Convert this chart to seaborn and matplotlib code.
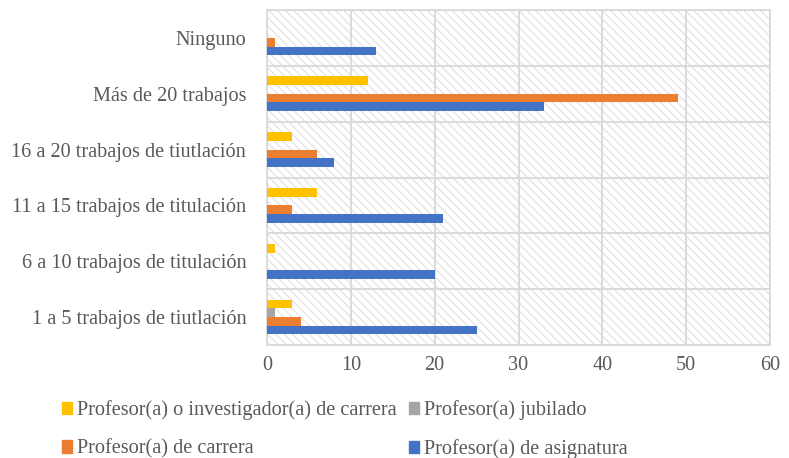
import numpy as np
import pandas as pd
import seaborn as sns
import matplotlib.pyplot as plt
from matplotlib.patches import Rectangle

# categories, top to bottom as drawn
categorias = ['Ninguno', 'Más de 20 trabajos', '16 a 20 trabajos de tiutlación',
              '11 a 15 trabajos de titulación', '6 a 10 trabajos de titulación',
              '1 a 5 trabajos de tiutlación']

series = ['Profesor(a) o investigador(a) de carrera', 'Profesor(a) jubilado',
          'Profesor(a) de carrera', 'Profesor(a) de asignatura']

investigador = [0, 12, 3, 6, 1, 3]
jubilado = [0, 0, 0, 0, 0, 1]
carrera = [1, 49, 6, 3, 0, 4]
asignatura = [13, 33, 8, 21, 20, 25]

colores = ['#FFC000', '#A5A5A5', '#ED7D31', '#4472C4']
texto = '#595959'
rejilla = '#d9d9d9'

rows = []
for s, vals in zip(series, [investigador, jubilado, carrera, asignatura]):
    for c, v in zip(categorias, vals):
        rows.append({'cat': c, 'serie': s, 'valor': v})
df = pd.DataFrame(rows)

sns.set_style('white')
plt.rcParams['font.family'] = ['Liberation Serif', 'DejaVu Serif']
plt.rcParams['hatch.linewidth'] = 0.7

fig = plt.figure(figsize=(7.89, 4.58), dpi=100)
ax = fig.add_axes([267 / 789, 1 - 345 / 458, (770 - 267) / 789, (345 - 10) / 458])

# hatched plot background
ax.add_patch(Rectangle((0, 0), 1, 1, transform=ax.transAxes, facecolor='white',
                       edgecolor='#dcdcdc', hatch='\\\\\\\\', linewidth=0, zorder=0))

sns.barplot(data=df, y='cat', x='valor', hue='serie', order=categorias,
            hue_order=series, palette=colores, saturation=1, orient='h',
            width=0.62, linewidth=0, ax=ax, legend=False, zorder=3)

ax.set_xlim(0, 60)
ax.set_xticks(np.arange(0, 61, 10))
ax.set_ylim(5.5, -0.5)
ax.set_yticks(np.arange(-0.5, 6, 1), minor=True)
ax.grid(axis='x', which='major', color=rejilla, linewidth=1.3, zorder=1)
ax.grid(axis='y', which='minor', color=rejilla, linewidth=1.3, zorder=1)
ax.set_axisbelow(True)
ax.set_xlabel('')
ax.set_ylabel('')
for sp in ax.spines.values():
    sp.set_color(rejilla)
    sp.set_linewidth(1.3)

ax.tick_params(axis='y', which='major', length=0, pad=15, labelsize=14.6, labelcolor=texto)
ax.tick_params(axis='y', which='minor', length=6, width=1.3, color=rejilla)
ax.tick_params(axis='x', length=0, pad=8, labelsize=14.6, labelcolor=texto)

handles = [Rectangle((0, 0), 1, 1, color=c) for c in colores]
orden = [0, 2, 1, 3]
fig.legend([handles[i] for i in orden], [series[i] for i in orden],
           loc='upper left', bbox_to_anchor=(0.0786, 0.1265), ncol=2, frameon=False,
           fontsize=14.6, labelcolor=texto, handlelength=0.5, handleheight=0.55,
           handletextpad=0.25, columnspacing=0.6, labelspacing=0.95, borderpad=0,
           borderaxespad=0)

fig.savefig('out.png', dpi=100)
